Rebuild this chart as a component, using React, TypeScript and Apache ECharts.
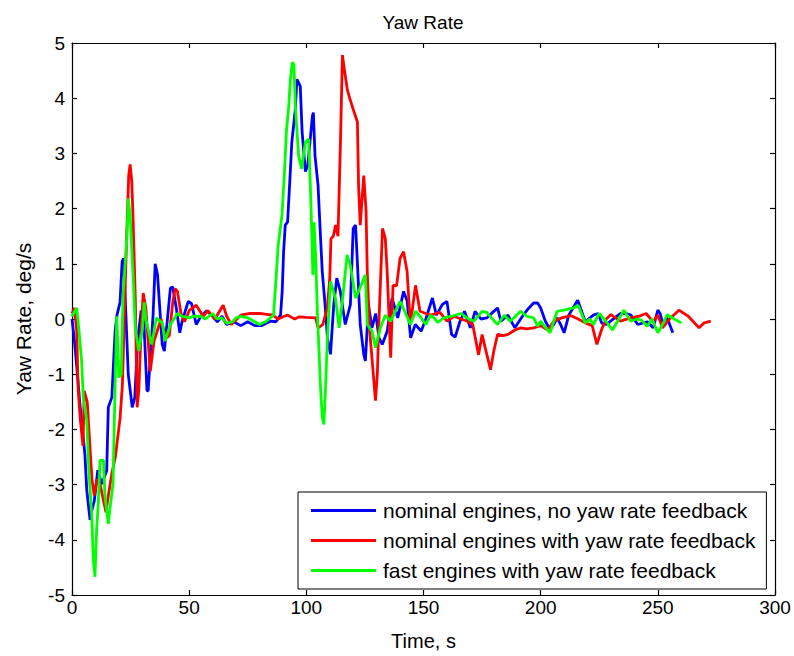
import React, { useEffect, useRef } from "react";
import * as echarts from "echarts";

const seriesNames = [
  "nominal engines, no yaw rate feedback",
  "nominal engines with yaw rate feedback",
  "fast engines with yaw rate feedback",
];
const seriesColors = ["#0000FF", "#FF0000", "#00FF00"];

const xTicks = [0, 50, 100, 150, 200, 250, 300];
const yTicks = [-5, -4, -3, -2, -1, 0, 1, 2, 3, 4, 5];

const blueTime = [
  0, 0.8, 1.5, 3.4, 5.5, 6.3, 7.7, 8.5, 9.5, 11, 12.7, 14.8, 15.5, 17, 18.4, 19.2, 20.5, 21.4, 22, 22.6,
  24, 25.7, 26.8, 28, 29.5, 30.5, 32, 32.5, 34.6, 35.5, 36.5, 38.5, 39.4, 42, 43, 44.5, 46, 47, 49.6, 51,
  53, 55, 57.5, 60, 62, 64, 66, 69, 72, 75, 78, 81, 84.6, 87, 89, 89.7, 90.3, 91, 92, 93,
  93.8, 95.3, 96, 97.4, 98.2, 99.6, 100.6, 102.6, 103, 103.7, 105, 105.8, 106.8, 108, 109, 110.3, 111.7, 113, 114.5, 116.6,
  118.8, 120, 121, 121.7, 123, 124.5, 125.2, 126.5, 128, 129.6, 131, 132.4, 134.5, 136.6, 139, 141.5, 143, 144.5, 146.5, 149,
  151, 153.8, 155.5, 158, 160, 162, 163.5, 165.5, 167.5, 170, 172, 174.5, 177, 179.5, 181.6, 183, 186, 189, 192.5, 195,
  197, 198.7, 200, 202, 203.6, 205.6, 207, 208.5, 210, 212, 213.8, 215.8, 217, 219, 222.5, 224.5, 226, 228, 231.6, 234,
  236.5, 238.5, 241.5, 245.5, 248, 250, 251, 252, 254, 256.4,
];
const blueYaw = [
  0, -0.3, -0.6, -1.55, -2.45, -3.1, -3.64, -3.46, -3.3, -2.74, -2.99, -2.75, -1.6, -1.42, -0.22, 0.07, 0.3, 1.04, 1.1, 0.5,
  -1.0, -1.6, -1.42, -0.4, 0.15, 0.1, -1.3, -1.3, 0.07, 1.0, 0.8, -0.46, -0.58, 0.56, 0.58, 0.2, -0.25, -0.04, 0.32, 0.28,
  -0.1, 0.05, 0.15, 0.05, -0.05, 0.05, -0.1, -0.05, -0.12, -0.05, -0.12, -0.12, -0.04, -0.05, 0.07, 0.5, 1.22, 1.7, 1.76, 2.54,
  3.2, 3.8, 4.34, 4.22, 3.39, 2.67, 2.78, 3.68, 3.74, 2.96, 2.42, 1.7, 0.86, 0.26, -0.34, -0.64, 0.26, 0.74, 0.5, -0.1,
  0.26, 1.64, 1.7, 1.1, -0.1, -0.64, -0.76, 0.26, -0.16, 0.1, -0.34, -0.46, -0.22, 0.38, 0.02, 0.5, 0.33, -0.34, -0.1, -0.22,
  0.0, 0.38, 0.07, 0.26, 0.32, -0.28, -0.33, -0.05, 0.14, -0.16, 0.14, 0.0, 0.02, 0.12, 0.2, -0.04, 0.07, -0.16, 0.07, 0.2,
  0.29, 0.29, 0.2, -0.04, -0.16, -0.1, 0.02, -0.1, -0.25, 0.07, 0.2, 0.34, 0.2, -0.05, 0.07, 0.1, -0.07, -0.1, 0.02, 0.1,
  0.1, 0.07, -0.1, -0.05, -0.16, 0.16, 0.1, -0.07, 0.02, -0.25,
];

const redTime = [
  0, 1, 2, 2.6, 3.5, 4.7, 5.2, 6.5, 7.5, 8.5, 9.5, 10.7, 12, 13.5, 14.5, 15.5, 17, 18.5, 20.5, 21.5,
  22.5, 23.4, 24.2, 24.8, 25.5, 26, 27, 27.8, 28.5, 29.5, 30.4, 31.5, 33.4, 35, 36.5, 38, 40, 41.5, 43, 44,
  45, 46.5, 48, 50, 53, 56, 58, 61, 64.5, 66, 68, 72, 76, 80, 85.6, 88, 90, 92, 95, 97,
  100, 104, 105, 107, 109, 110, 110.5, 111.5, 112.5, 113.5, 114.5, 115.4, 116.3, 117.5, 118.5, 120, 121.8, 122.3, 123, 124.5,
  125.5, 126, 127, 128, 129.5, 130.3, 131, 132.5, 133.7, 134.5, 136, 137, 138.5, 140, 141.5, 143, 144.4, 146.6, 148.5, 151,
  153, 157, 160, 163, 166, 168.7, 171, 173.5, 175, 176.5, 178.6, 180, 181.6, 184, 186, 189, 191.5, 194, 197, 200,
  203, 205.6, 209, 213, 216, 219, 222, 224, 226, 228, 230, 234, 238.5, 242, 245, 248, 250, 252, 255, 259,
  263, 267.6, 269.8, 272.6,
];
const redYaw = [
  0.1, 0.2, -0.2, -1.25, -1.8, -2.3, -1.3, -1.5, -2.2, -2.9, -3.2, -2.9, -3.0, -3.3, -3.5, -3.2, -2.8, -2.5, -1.8, -1.2,
  0.3, 1.6, 2.6, 2.8, 2.5, 1.9, 0.4, -1.6, -1.3, -0.2, 0.47, 0.2, -0.95, -0.4, -0.2, 0.0, -0.35, -0.3, 0.3, 0.55,
  0.5, 0.1, -0.05, 0.15, 0.25, 0.05, 0.15, 0.0, 0.25, 0.05, -0.1, 0.07, 0.1, 0.1, 0.07, 0.0, 0.04, 0.07, 0.0, 0.04,
  0.03, 0.02, -0.16, -0.1, 0.2, 0.75, 1.45, 1.5, 1.7, 1.5, 3.1, 4.78, 4.5, 4.15, 4.0, 3.8, 3.57, 2.4, 1.7, 2.6,
  1.95, 0.86, -0.2, -0.7, -1.48, -1.0, -0.03, 1.64, 1.46, 0.86, -0.7, 0.61, 0.6, 1.1, 1.22, 0.86, -0.1, 0.61, 0.14, 0.1,
  0.07, 0.12, -0.04, 0.05, 0.0, -0.04, -0.1, -0.65, -0.28, -0.55, -0.92, -0.58, -0.28, -0.3, -0.28, -0.2, -0.16, -0.18, -0.16, -0.12,
  -0.2, -0.04, 0.02, 0.06, 0.0, -0.07, -0.12, -0.46, -0.19, 0.0, 0.08, -0.04, 0.02, 0.05, 0.1, -0.05, 0.07, -0.16, 0.0, 0.16,
  0.05, -0.16, -0.07, -0.04,
];

const greenTime = [
  0, 2, 3, 4.1, 4.8, 6.3, 7.2, 8.4, 9.1, 9.8, 10.5, 11.2, 12, 13.4, 14.1, 15.5, 16.1, 17.5, 18.4, 19.1,
  20, 21, 21.8, 23.4, 24, 24.8, 25.5, 26.2, 27, 28.5, 30, 30.8, 31.5, 34, 36, 38.5, 39.7, 42, 45, 47,
  50, 52, 54.7, 57, 60, 62, 64, 66, 68.5, 70, 72, 75, 78, 80, 83, 86, 86.8, 88, 89.6, 90.6,
  91.5, 92.5, 93.2, 94, 94.7, 95.3, 96.7, 98, 99.6, 101, 101.7, 102.3, 102.8, 103.3, 104, 104.7, 106, 106.8, 107.5, 108.2,
  109, 110.3, 112.4, 114, 115.5, 117.4, 118.8, 121, 122.3, 125.2, 126, 128, 129.5, 131.6, 133.7, 136, 140, 142, 144.4, 146.6,
  149, 151, 153, 154.5, 156, 158.7, 162, 166, 168.5, 171.5, 175, 177, 179, 181.6, 184.5, 187, 191.5, 194, 197, 198.7,
  200, 202, 204, 207, 210, 214, 216, 219, 221, 222.5, 225, 228, 230.6, 233.4, 235.5, 238.5, 241, 243, 245.5, 247.5,
  250, 252, 254, 257, 260,
];
const greenYaw = [
  0.05, 0.2, -0.22, -0.76, -1.42, -1.84, -2.74, -3.53, -4.36, -4.67, -3.83, -3.35, -2.56, -2.56, -3.23, -3.71, -3.47, -2.99, -1.19, 0.05,
  -1.06, -1.0, 0.44, 1.46, 2.18, 1.88, 1.28, 0.68, -0.16, -0.58, -0.2, 0.3, 0.0, -0.46, 0.02, -0.07, -0.4, -0.1, 0.1, 0.05,
  0.02, 0.05, 0.05, 0.0, 0.1, 0.0, 0.02, -0.08, -0.05, 0.02, 0.05, 0.02, -0.05, -0.1, -0.04, 0.07, 0.56, 1.34, 1.88, 2.6,
  3.4, 3.86, 4.34, 4.65, 4.6, 3.86, 2.96, 2.72, 3.2, 3.26, 2.42, 1.6, 0.8, 1.75, 1.1, 0.14, -1.19, -1.78, -1.91, -1.24,
  -0.34, 0.68, 0.38, -0.16, 0.38, 1.16, 0.97, 0.38, 0.5, 0.8, -0.1, -0.22, -0.52, -0.16, 0.07, -0.04, 0.32, 0.14, -0.1, 0.14,
  0.02, -0.1, 0.07, 0.02, -0.06, 0.02, 0.05, 0.1, 0.02, -0.04, 0.14, 0.12, 0.02, -0.1, 0.07, -0.04, 0.14, 0.05, 0.02, -0.13,
  -0.04, -0.15, -0.25, 0.14, 0.16, 0.2, 0.25, -0.07, 0.0, -0.1, 0.1, -0.05, -0.2, 0.0, 0.16, -0.04, 0.0, -0.02, -0.13, 0.0,
  -0.25, -0.1, 0.08, 0.0, -0.07,
];

const FONT = "'Liberation Sans', Arial, Helvetica, sans-serif";

function zip(t: number[], v: number[]) {
  return t.map((x, i) => [x, v[i]]);
}

export default function App() {
  const ref = useRef<HTMLDivElement>(null);

  useEffect(() => {
    if (!ref.current) return;
    const chart = echarts.init(ref.current, undefined, { renderer: "svg" });
    const axisCommon = {
      axisLine: { show: true, onZero: false, lineStyle: { color: "#000", width: 1.2 } },
      axisTick: { show: true, inside: true, length: 5, lineStyle: { color: "#000", width: 1.2 } },
      splitLine: { show: false },
    };
    const datasets = [zip(blueTime, blueYaw), zip(redTime, redYaw), zip(greenTime, greenYaw)];
    chart.setOption({
      animation: false,
      backgroundColor: "#fff",
      textStyle: { fontFamily: FONT },
      title: {
        text: "Yaw Rate",
        left: 418,
        top: 8,
        textAlign: "center",
        textStyle: { fontFamily: FONT, fontSize: 19, fontWeight: "normal", color: "#000" },
      },
      grid: { left: 72, right: 19, top: 43, bottom: 58, containLabel: false },
      legend: {
        orient: "vertical",
        left: 298,
        top: 492,
        padding: [8, 11, 8, 13],
        itemGap: 9,
        itemWidth: 65,
        itemHeight: 3,
        icon: "rect",
        backgroundColor: "#fff",
        borderColor: "#000",
        borderWidth: 1,
        borderRadius: 0,
        textStyle: { fontFamily: FONT, fontSize: 21, color: "#000", padding: [0, 0, 0, 2] },
        data: seriesNames,
      },
      xAxis: [
        {
          type: "value",
          position: "bottom",
          min: xTicks[0],
          max: xTicks[xTicks.length - 1],
          interval: 50,
          name: "Time, s",
          nameLocation: "middle",
          nameGap: 36,
          nameTextStyle: { fontFamily: FONT, fontSize: 20, color: "#000" },
          axisLabel: { fontFamily: FONT, fontSize: 19, color: "#000", margin: 3 },
          ...axisCommon,
        },
        {
          type: "value",
          position: "top",
          min: xTicks[0],
          max: xTicks[xTicks.length - 1],
          interval: 50,
          axisLabel: { show: false },
          ...axisCommon,
        },
      ],
      yAxis: [
        {
          type: "value",
          position: "left",
          min: yTicks[0],
          max: yTicks[yTicks.length - 1],
          interval: 1,
          name: "Yaw Rate, deg/s",
          nameLocation: "middle",
          nameGap: 38,
          nameTextStyle: { fontFamily: FONT, fontSize: 21, color: "#000" },
          axisLabel: { fontFamily: FONT, fontSize: 19, color: "#000", margin: 7 },
          ...axisCommon,
        },
        {
          type: "value",
          position: "right",
          min: yTicks[0],
          max: yTicks[yTicks.length - 1],
          interval: 1,
          axisLabel: { show: false },
          ...axisCommon,
        },
      ],
      series: seriesNames.map((name, i) => ({
        name,
        type: "line",
        xAxisIndex: 0,
        yAxisIndex: 0,
        data: datasets[i],
        symbol: "none",
        showSymbol: false,
        color: seriesColors[i],
        lineStyle: { color: seriesColors[i], width: 2.8 },
      })),
    });
    return () => chart.dispose();
  }, []);

  return (
    <div
      ref={ref}
      style={{ position: "fixed", left: 0, top: 0, width: 794, height: 656, background: "#fff" }}
    />
  );
}
